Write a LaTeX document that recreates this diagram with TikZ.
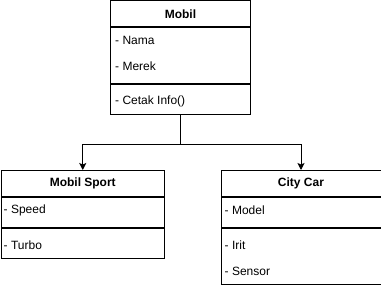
\documentclass[tikz,border=0pt]{standalone}
\usepackage{fontspec}
\setmainfont{Liberation Sans}
\usetikzlibrary{arrows.meta,positioning}

\tikzset{
  part/.style={draw, line width=1pt, inner sep=0pt, anchor=north west},
  head/.style={part, minimum height=26pt, font=\bfseries\fontsize{12}{14}\selectfont},
  field/.style={anchor=west, inner sep=0pt, font=\fontsize{12}{14}\selectfont},
  inherit/.style={line width=1pt, -{Stealth[length=7pt,width=7pt,inset=1.5pt]}}
}

\begin{document}
\begin{tikzpicture}[x=1pt,y=-1pt]
\useasboundingbox (0,0) rectangle (381,286);

% Mobil
\node[head, minimum width=140pt] (mobil) at (110,0.5) {Mobil};
\node[part, minimum width=140pt, minimum height=56pt] (mobil-attr) at (mobil.south west) {};
\node[part, minimum width=140pt, minimum height=30pt] (mobil-op) at (mobil-attr.south west) {};
\node[field] (nama) at ([xshift=5pt,yshift=-13pt]mobil-attr.north west) {- Nama};
\node[field] (merek) at ([xshift=5pt,yshift=-39pt]mobil-attr.north west) {- Merek};
\node[field] (cetak) at ([xshift=5pt,yshift=-17pt]mobil-op.north west) {- Cetak Info()};

% Mobil Sport
\node[head, minimum width=163.5pt] (sport) at (0.5,170) {Mobil Sport};
\node[part, minimum width=163.5pt, minimum height=30pt] (sport-attr) at (sport.south west) {};
\node[part, minimum width=163.5pt, minimum height=30pt] (sport-op) at (sport-attr.south west) {};
\node[field] (speed) at ([xshift=3pt,yshift=-13pt]sport-attr.north west) {- Speed};
\node[field] (turbo) at ([xshift=3pt,yshift=-17pt]sport-op.north west) {- Turbo};

% City Car
\node[head, minimum width=160pt] (city) at (220.5,170) {City Car};
\node[part, minimum width=160pt, minimum height=30pt] (city-attr) at (city.south west) {};
\node[part, minimum width=160pt, minimum height=56pt] (city-op) at (city-attr.south west) {};
\node[field] (model) at ([xshift=4pt,yshift=-13pt]city-attr.north west) {- Model};
\node[field] (irit) at ([xshift=4pt,yshift=-17pt]city-op.north west) {- Irit};
\node[field] (sensor) at ([xshift=4pt,yshift=-43pt]city-op.north west) {- Sensor};

% Inheritance
\coordinate (split) at ([yshift=-29pt]mobil-op.south);
\draw[inherit] (mobil-op.south) -- (split) -| (sport.north);
\draw[inherit] (split) -| (city.north);

\end{tikzpicture}
\end{document}
